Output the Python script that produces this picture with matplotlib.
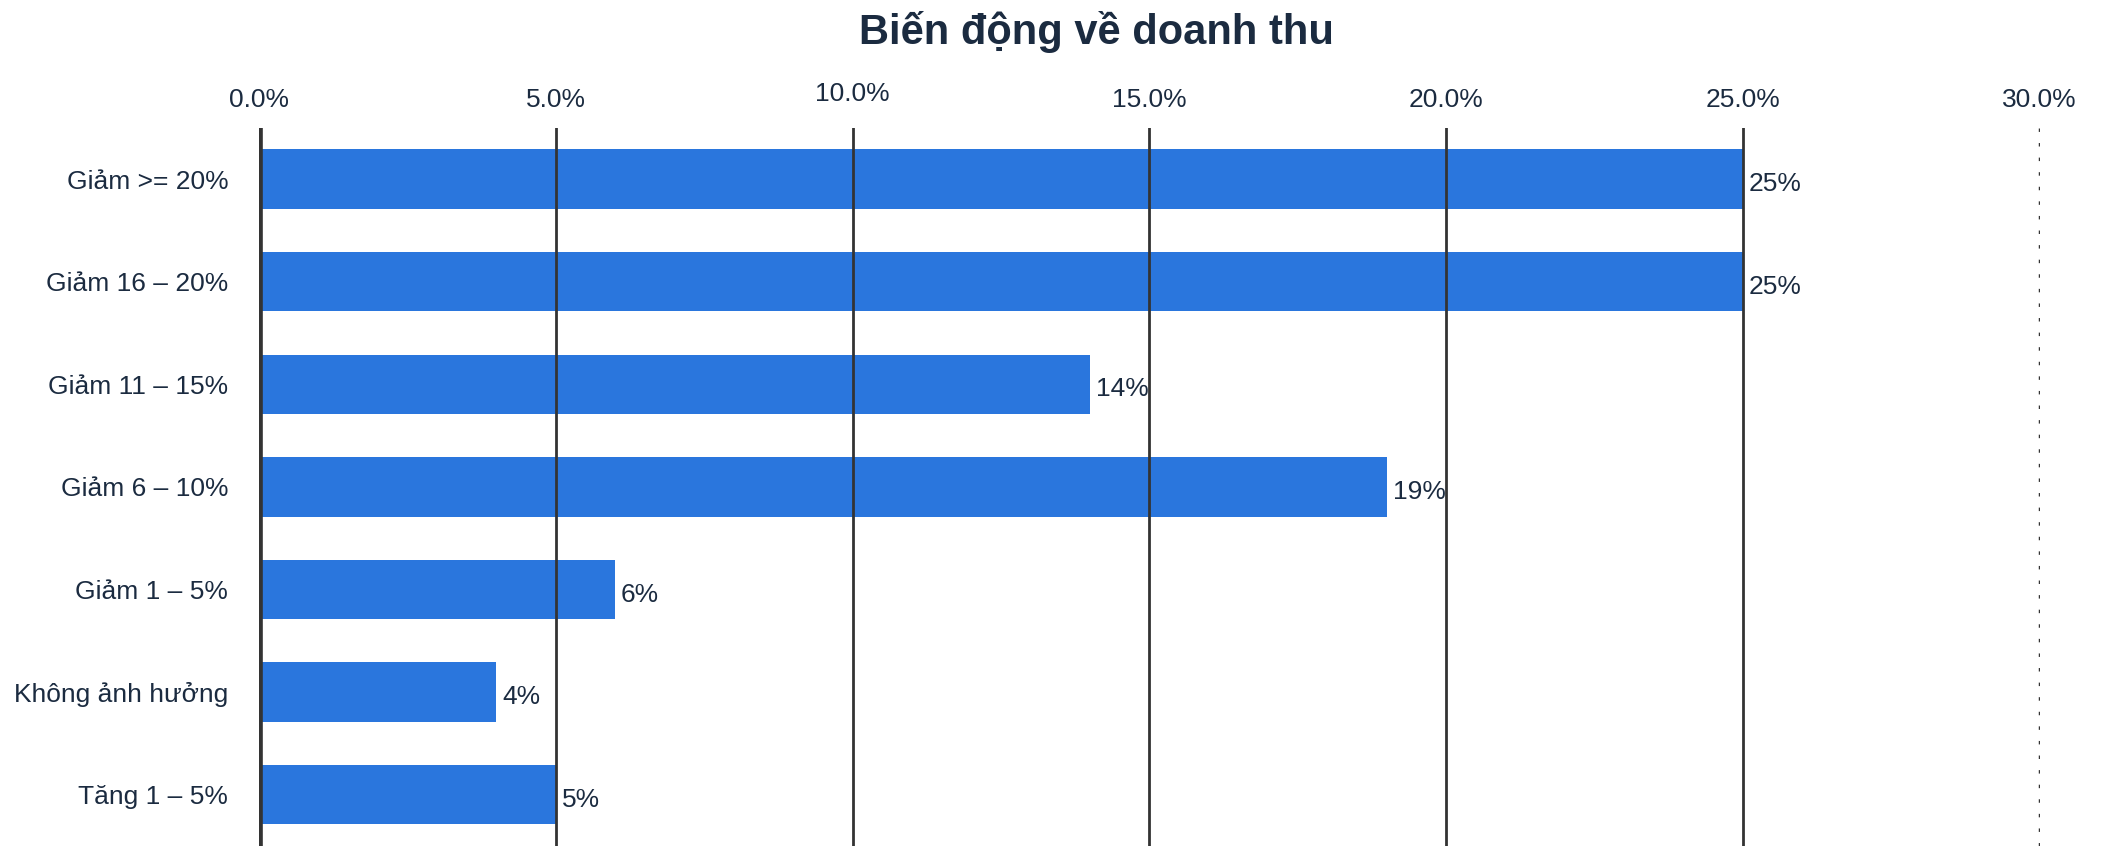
import matplotlib
matplotlib.use("Agg")
import matplotlib.pyplot as plt
import matplotlib.transforms as mtransforms

plt.rcParams['font.family'] = ['Liberation Sans', 'DejaVu Sans']

# data
categories = ["Giảm >= 20%", "Giảm 16 – 20%", "Giảm 11 – 15%", "Giảm 6 – 10%",
              "Giảm 1 – 5%", "Không ảnh hưởng", "Tăng 1 – 5%"]
values = [25, 25, 14, 19, 6, 4, 5]
xticks = [0, 5, 10, 15, 20, 25, 30]
xtick_labels = ["0.0%", "5.0%", "10.0%", "15.0%", "20.0%", "25.0%", "30.0%"]

text_color = "#1b2b40"
bar_color = "#2a76dd"
grid_color = "#333333"

fig = plt.figure(figsize=(21.05, 8.46), dpi=100)
ax = fig.add_axes([0.123, 0.0, 0.846, 0.849])

y = list(range(len(categories)))
ax.barh(y, values, height=0.58, color=bar_color, zorder=2)

# gridlines
for t in xticks[1:-1]:
    ax.axvline(t, color=grid_color, lw=2, zorder=3)
ax.axvline(30, color=grid_color, lw=2.5, ls=(0, (1, 3.2)), zorder=3)
ax.axvline(0, color=grid_color, lw=5.5, zorder=4)

for yi, v in zip(y, values):
    ax.text(v + 0.1, yi + 0.05, f"{v}%", va="center", ha="left",
            fontsize=19, color=text_color, zorder=5)

ax.set_xlim(0, 30)
ax.set_ylim(6.5, -0.5)
ax.set_yticks(y)
ax.set_yticklabels(categories, fontsize=19, color=text_color)
ax.xaxis.tick_top()
ax.set_xticks(xticks)
ax.set_xticklabels(xtick_labels, fontsize=19, color=text_color)
ax.tick_params(axis="x", length=0, pad=11)
ax.tick_params(axis="y", length=0, pad=22)
for s in ax.spines.values():
    s.set_visible(False)

# the 10.0% label sits a little higher in the original
lbl = ax.get_xticklabels()[2]
lbl.set_transform(lbl.get_transform() + mtransforms.ScaledTranslation(0, 5 / 72, fig.dpi_scale_trans))

fig.text(0.521, 0.962, "Biến động về doanh thu", ha="center", va="center",
         fontsize=30, fontweight="bold", color=text_color)

fig.savefig("out.png", dpi=100, facecolor="white")
